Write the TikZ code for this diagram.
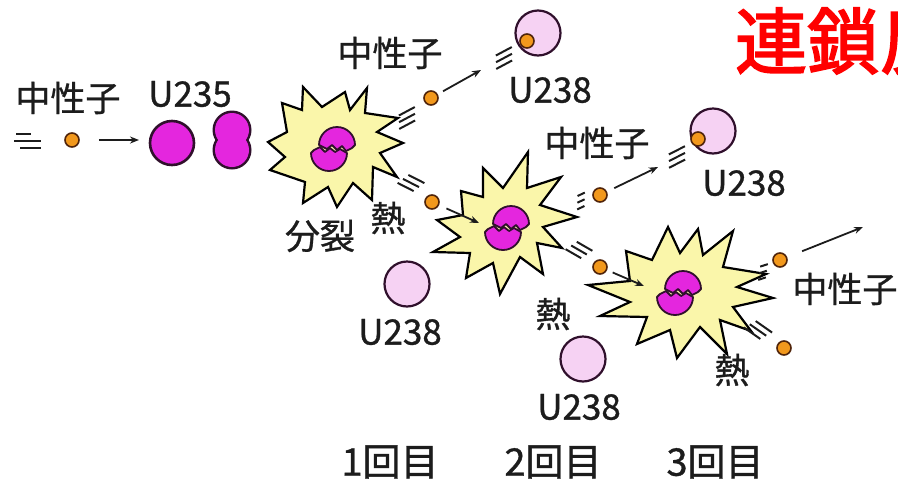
\documentclass[tikz,border=0pt]{standalone}
\usepackage{fontspec}
\newfontfamily\jp{Noto Sans CJK JP}[FakeBold=0.9]
\newfontfamily\jptitle{Noto Sans CJK JP}[FakeBold=2.5]
\usetikzlibrary{arrows.meta}

\definecolor{neutronfill}{RGB}{242,152,28}
\definecolor{neutronedge}{RGB}{80,36,10}
\definecolor{fissile}{RGB}{228,38,222}
\definecolor{nucleusedge}{RGB}{48,16,44}
\definecolor{fertile}{RGB}{246,210,243}
\definecolor{burstfill}{RGB}{250,246,170}
\definecolor{inktext}{RGB}{28,28,28}

\tikzset{
  neutron/.style={circle, fill=neutronfill, draw=neutronedge, line width=1.6pt,
    minimum size=14pt, inner sep=0pt},
  fissilenuc/.style={circle, fill=fissile, draw=nucleusedge, line width=2.6pt,
    minimum size=44pt, inner sep=0pt},
  fertilenuc/.style={circle, fill=fertile, draw=nucleusedge, line width=2.2pt,
    minimum size=45pt, inner sep=0pt},
  burst/.style={fill=burstfill, draw=black, line width=2.2pt, line join=miter},
  frag/.style={fill=fissile, draw=nucleusedge, line width=1.8pt, line join=round},
  ray/.style={line width=1.8pt, draw=inktext, -{Stealth[length=9pt,width=7pt]}},
  speedline/.style={line width=2pt, draw=inktext},
  lbl/.style={font=\jp\fontsize{35}{37}\selectfont, text=inktext, inner sep=0pt},
  numlbl/.style={font=\jp\fontsize{35}{37}\selectfont, text=inktext, inner sep=0pt},
  steplbl/.style={font=\jp\fontsize{38}{40}\selectfont, text=inktext, inner sep=0pt},
}

% three parallel motion strokes: centre x, centre y, direction, stroke length
\newcommand\motionlines[4]{%
  \begin{scope}[shift={(#1,#2)}, rotate=#3]
    \draw[speedline] ({-#4/2+3},-6) -- ++(#4,0);
    \draw[speedline] ({-#4/2},0) -- ++(#4,0);
    \draw[speedline] ({-#4/2-3},6) -- ++(#4,0);
  \end{scope}}

% a nucleus broken into two pieces
\newcommand\splitnucleus[2]{%
  \begin{scope}[shift={(#1,#2)}]
    \begin{scope}[shift={(4,-4)}]
      \filldraw[frag] (-18,1) arc[start angle=180, end angle=360, radius=18]
        -- (15,4) -- (9,7) -- (5,2) -- (0,6) -- (-5,1) -- (-10,5) -- cycle;
    \end{scope}
    \begin{scope}[shift={(-4,6)}]
      \filldraw[frag] (18,-1) arc[start angle=0, end angle=180, radius=18]
        -- (-15,-4) -- (-9,-7) -- (-4,-2) -- (1,-6) -- (6,-2) -- (11,-5) -- cycle;
    \end{scope}
  \end{scope}}

\begin{document}
\begin{tikzpicture}[x=1pt, y=-1pt]
  \useasboundingbox (0,0) rectangle (898,483);
  \clip (0,0) rectangle (898,483);
  \fill[white] (0,0) rectangle (898,483);

  % ---- bursts ----
  \draw[burst] (268,142) -- (287,132) -- (282,103) -- (302,110) -- (303,87)
    -- (322,107) -- (345,92) -- (350,110) -- (367,88) -- (365,113) -- (398,118)
    -- (377,132) -- (403,143) -- (380,153) -- (397,177) -- (373,167) -- (372,200)
    -- (353,183) -- (337,207) -- (328,187) -- (303,203) -- (305,182) -- (270,170)
    -- (285,157) -- cycle;
  \draw[burst] (437,220) -- (463,215) -- (461,191) -- (483,197) -- (483,168)
    -- (503,188) -- (528,152) -- (527,188) -- (561,177) -- (540,205) -- (577,217)
    -- (543,227) -- (562,248) -- (537,243) -- (543,274) -- (520,257) -- (500,294)
    -- (493,263) -- (466,278) -- (470,253) -- (433,252) -- (460,237) -- cycle;
  \draw[burst] (588,285) -- (630,281) -- (626,251) -- (652,260) -- (668,227)
    -- (680,253) -- (698,229) -- (703,255) -- (733,231) -- (723,267) -- (766,274)
    -- (737,287) -- (773,298) -- (733,307) -- (751,331) -- (720,320) -- (727,354)
    -- (700,327) -- (677,358) -- (670,330) -- (637,344) -- (647,317) -- (600,316)
    -- (630,302) -- cycle;

  \splitnucleus{333}{148}
  \splitnucleus{507}{227}
  \splitnucleus{679}{292}

  % ---- incoming neutron and U-235 ----
  \draw[speedline] (16,134) -- (31,134);
  \draw[speedline] (14,141) -- (41,141);
  \draw[speedline] (20,148) -- (41,148);
  \node[neutron] (n0) at (72,140) {};
  \coordinate (a0) at (139,140);
  \draw[ray, shorten <=19pt] (n0) -- (a0);
  \node[fissilenuc] (u235) at (172,143) {};

  % nucleus pinching apart
  \fill[nucleusedge] (232,130) circle[radius=19.5] (232,150) circle[radius=19.5];
  \fill[fissile] (232,130) circle[radius=17] (232,150) circle[radius=17];

  % ---- first generation ----
  \motionlines{407}{118}{28}{18}
  \node[neutron] (n1) at (431,98) {};
  \coordinate (a1) at (481,70);
  \draw[ray, shorten <=6pt] (n1) -- (a1);
  \motionlines{504}{58}{28}{18}
  \node[fertilenuc] (u238a) at (538,33) {};
  \node[neutron] (n1b) at (527,41) {};

  \motionlines{411}{183}{-27}{18}
  \node[neutron] (n2) at (432,202) {};
  \coordinate (a2) at (479,223);
  \draw[ray, shorten <=8pt] (n2) -- (a2);

  % ---- second generation ----
  \motionlines{581}{201}{25}{8}
  \node[neutron] (n3) at (600,195) {};
  \coordinate (a3) at (658,167);
  \draw[ray, shorten <=8pt] (n3) -- (a3);
  \motionlines{677}{157}{27}{18}
  \node[fertilenuc] (u238b) at (713,131) {};
  \node[neutron] (n3b) at (698,139) {};

  \motionlines{579}{250}{-30}{18}
  \node[neutron] (n4) at (600,267) {};
  \coordinate (a4) at (644,286);
  \draw[ray, shorten <=6pt] (n4) -- (a4);

  \node[fertilenuc] (u238c) at (407,284) {};
  \node[fertilenuc] (u238d) at (583,359) {};

  % ---- third generation ----
  \motionlines{763}{272}{18}{8}
  \node[neutron] (n5) at (780,260) {};
  \coordinate (a5) at (863,227);
  \draw[ray, shorten <=16pt] (n5) -- (a5);
  \motionlines{758}{330}{-35}{20}
  \node[neutron] (n6) at (784,348) {};

  % ---- labels ----
  \node[lbl] (t0) at (68,98) {中性子};
  \node[numlbl] (t1) at (190,94) {U235};
  \node[lbl] (t2) at (390,53) {中性子};
  \node[numlbl] (t3) at (550,90) {U238};
  \node[lbl] (t4) at (597,143) {中性子};
  \node[numlbl] (t5) at (744,183) {U238};
  \node[lbl] (t6) at (388,218) {熱};
  \node[lbl] (t7) at (320,236) {分裂};
  \node[numlbl] (t8) at (400,332) {U238};
  \node[lbl] (t9) at (553,314) {熱};
  \node[numlbl] (t10) at (579,407) {U238};
  \node[lbl] (t11) at (845,289) {中性子};
  \node[lbl] (t12) at (732,370) {熱};
  \node[steplbl] (g1) at (390,462) {1回目};
  \node[steplbl] (g2) at (553,462) {2回目};
  \node[steplbl] (g3) at (715,462) {3回目};

  \node[anchor=west, text=red, font=\jptitle\fontsize{72}{72}\selectfont,
    inner sep=0pt] (title) at (735,41) {連鎖反応};
\end{tikzpicture}
\end{document}
